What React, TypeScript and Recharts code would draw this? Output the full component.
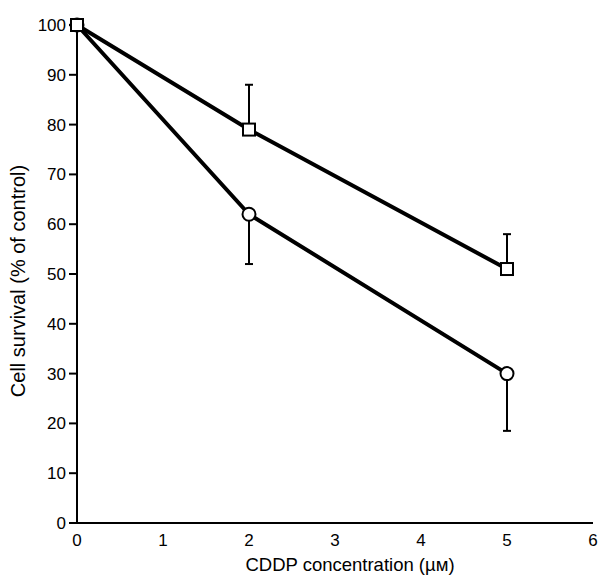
import { LineChart, Line, XAxis, YAxis, ErrorBar, Label } from "recharts";

// CDDP concentration (µM)
const concentrations = [0, 2, 5];

// square series
const squareSurvival = [100, 79, 51];
const squareErrUp = [null, 9, 7];

// circle series
const circleSurvival = [100, 62, 30];
const circleErrDown = [null, 10, 11.5];

const xTicks = [0, 1, 2, 3, 4, 5, 6];
const yTicks = [0, 10, 20, 30, 40, 50, 60, 70, 80, 90, 100];

const FONT = "'Liberation Sans', Arial, Helvetica, sans-serif";

const data = concentrations.map((c, i) => ({
  conc: c,
  square: squareSurvival[i],
  squareErr: squareErrUp[i] == null ? null : [0, squareErrUp[i]],
  circle: circleSurvival[i],
  circleErr: circleErrDown[i] == null ? null : [circleErrDown[i], 0],
}));

const SquareDot = (props: any) => {
  const { cx, cy, key } = props;
  if (cx == null || cy == null) return null;
  return (
    <rect
      key={key}
      x={cx - 6}
      y={cy - 6}
      width={12}
      height={12}
      fill="#fff"
      stroke="#000"
      strokeWidth={2}
    />
  );
};

export default function App() {
  return (
    <div style={{ position: "absolute", left: 0, top: 0, fontFamily: FONT }}>
      <LineChart
        width={598}
        height={575}
        data={data}
        margin={{ top: 25, right: 5, left: 0, bottom: 0 }}
      >
        <XAxis
          dataKey="conc"
          type="number"
          domain={[0, 6]}
          ticks={xTicks}
          tickLine={false}
          tickMargin={5}
          height={52}
          stroke="#000"
          strokeWidth={2}
          tick={{ fill: "#000", fontSize: 17, fontFamily: FONT }}
        >
          <Label
            value="CDDP concentration (µм)"
            position="insideBottom"
            offset={4}
            dx={15}
            style={{ fill: "#000", fontSize: 18.5, fontFamily: FONT }}
          />
        </XAxis>
        <YAxis
          type="number"
          domain={[0, 100]}
          ticks={yTicks}
          width={77}
          tickSize={8}
          tickMargin={3}
          stroke="#000"
          strokeWidth={2}
          tick={{ fill: "#000", fontSize: 17, fontFamily: FONT }}
        >
          <Label
            value="Cell survival (% of control)"
            angle={-90}
            position="insideLeft"
            offset={18}
            dy={7}
            style={{
              fill: "#000",
              fontSize: 20,
              fontFamily: FONT,
              textAnchor: "middle",
            }}
          />
        </YAxis>
        <Line
          dataKey="circle"
          stroke="#000"
          strokeWidth={4}
          isAnimationActive={false}
          dot={{ r: 6.5, fill: "#fff", stroke: "#000", strokeWidth: 2 }}
        >
          <ErrorBar
            dataKey="circleErr"
            direction="y"
            width={4}
            stroke="#000"
            strokeWidth={2}
            isAnimationActive={false}
          />
        </Line>
        <Line
          dataKey="square"
          stroke="#000"
          strokeWidth={4}
          isAnimationActive={false}
          dot={<SquareDot />}
        >
          <ErrorBar
            dataKey="squareErr"
            direction="y"
            width={4}
            stroke="#000"
            strokeWidth={2}
            isAnimationActive={false}
          />
        </Line>
      </LineChart>
    </div>
  );
}
